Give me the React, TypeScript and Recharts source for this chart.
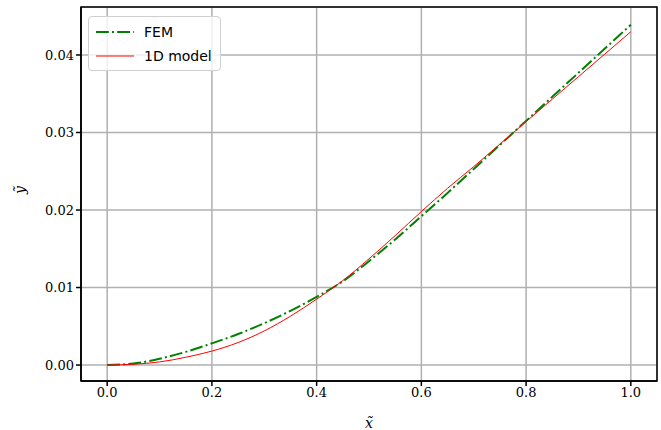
import { CartesianGrid, Label, Line, LineChart, ReferenceArea, XAxis, YAxis } from "recharts";

const xValues = [0, 0.05, 0.1, 0.15, 0.2, 0.25, 0.3, 0.35, 0.4, 0.45, 0.5, 0.55, 0.6, 0.65, 0.7, 0.75, 0.8, 0.85, 0.9, 0.95, 1.0];
const femValues = [0, 0.0002, 0.0008, 0.0017, 0.0028, 0.004, 0.0054, 0.007, 0.0088, 0.0108, 0.0134, 0.0162, 0.0192, 0.0222, 0.0253, 0.0284, 0.0315, 0.0346, 0.0377, 0.0408, 0.0439];
const modelValues = [0, 0.0001, 0.0004, 0.001, 0.0018, 0.0029, 0.0044, 0.0063, 0.0085, 0.0109, 0.0137, 0.0167, 0.0198, 0.0228, 0.0256, 0.0285, 0.0314, 0.0343, 0.0372, 0.0401, 0.043];

const xTicks = [0, 0.2, 0.4, 0.6, 0.8, 1.0];
const yTicks = [0, 0.01, 0.02, 0.03, 0.04];

const X_DOMAIN: [number, number] = [-0.05, 1.05];
const Y_DOMAIN: [number, number] = [-0.00206, 0.04619];

const data = xValues.map((x, i) => ({ x, fem: femValues[i], model: modelValues[i] }));

const serif = "'DejaVu Serif', serif";
const sans = "'DejaVu Sans', sans-serif";

function ChartLegend() {
  const rows = [
    { name: "FEM", color: "#008000", dash: "12.8 3.2 2 3.2", width: 2 },
    { name: "1D model", color: "#ff0000", dash: undefined, width: 1 },
  ];
  return (
    <div
      style={{
        position: "absolute",
        left: 88,
        top: 16,
        width: 133,
        height: 55,
        border: "1px solid #d0d0d0",
        borderRadius: 4,
        background: "rgba(255,255,255,0.8)",
        boxSizing: "border-box",
        paddingTop: 3,
      }}
    >
      {rows.map((r) => (
        <div key={r.name} style={{ display: "flex", alignItems: "center", height: 24 }}>
          <svg width={38} height={10} style={{ marginLeft: 7, marginRight: 10 }}>
            <line x1={0} y1={5} x2={38} y2={5} stroke={r.color} strokeWidth={r.width} strokeDasharray={r.dash} />
          </svg>
          <span style={{ fontFamily: sans, fontSize: 14, color: "#000" }}>{r.name}</span>
        </div>
      ))}
    </div>
  );
}

export default function App() {
  return (
    <div style={{ position: "fixed", left: 0, top: 0, width: 661, height: 430, background: "#fff" }}>
      <LineChart width={661} height={430} data={data} margin={{ top: 7, right: 4, bottom: 0, left: 0 }}>
        <CartesianGrid stroke="#b0b0b0" strokeWidth={1.5} />
        <XAxis
          dataKey="x"
          type="number"
          domain={X_DOMAIN}
          ticks={xTicks}
          tickFormatter={(v: number) => v.toFixed(1)}
          height={49}
          stroke="#000"
          strokeWidth={1.5}
          tickSize={5}
          tick={{ fill: "#000", fontFamily: serif, fontSize: 13 }}
          allowDataOverflow
        >
          <Label value="x̃" position="insideBottom" offset={2} style={{ fontFamily: serif, fontStyle: "italic", fontSize: 14, fill: "#000" }} />
        </XAxis>
        <YAxis
          type="number"
          domain={Y_DOMAIN}
          ticks={yTicks}
          tickFormatter={(v: number) => v.toFixed(2)}
          width={81}
          stroke="#000"
          strokeWidth={1.5}
          tickSize={5}
          tick={{ fill: "#000", fontFamily: serif, fontSize: 13 }}
          allowDataOverflow
        >
          <Label value="ỹ" angle={-90} position="insideLeft" offset={20} style={{ fontFamily: serif, fontStyle: "italic", fontSize: 14, fill: "#000" }} />
        </YAxis>
        <ReferenceArea
          x1={X_DOMAIN[0]}
          x2={X_DOMAIN[1]}
          y1={Y_DOMAIN[0]}
          y2={Y_DOMAIN[1]}
          fill="none"
          stroke="#000"
          strokeWidth={1.5}
          ifOverflow="visible"
        />
        <Line
          dataKey="fem"
          type="monotone"
          stroke="#008000"
          strokeWidth={2}
          strokeDasharray="12.8 3.2 2 3.2"
          dot={false}
          isAnimationActive={false}
        />
        <Line
          dataKey="model"
          type="monotone"
          stroke="#ff0000"
          strokeWidth={1}
          dot={false}
          isAnimationActive={false}
        />
      </LineChart>
      <ChartLegend />
    </div>
  );
}
